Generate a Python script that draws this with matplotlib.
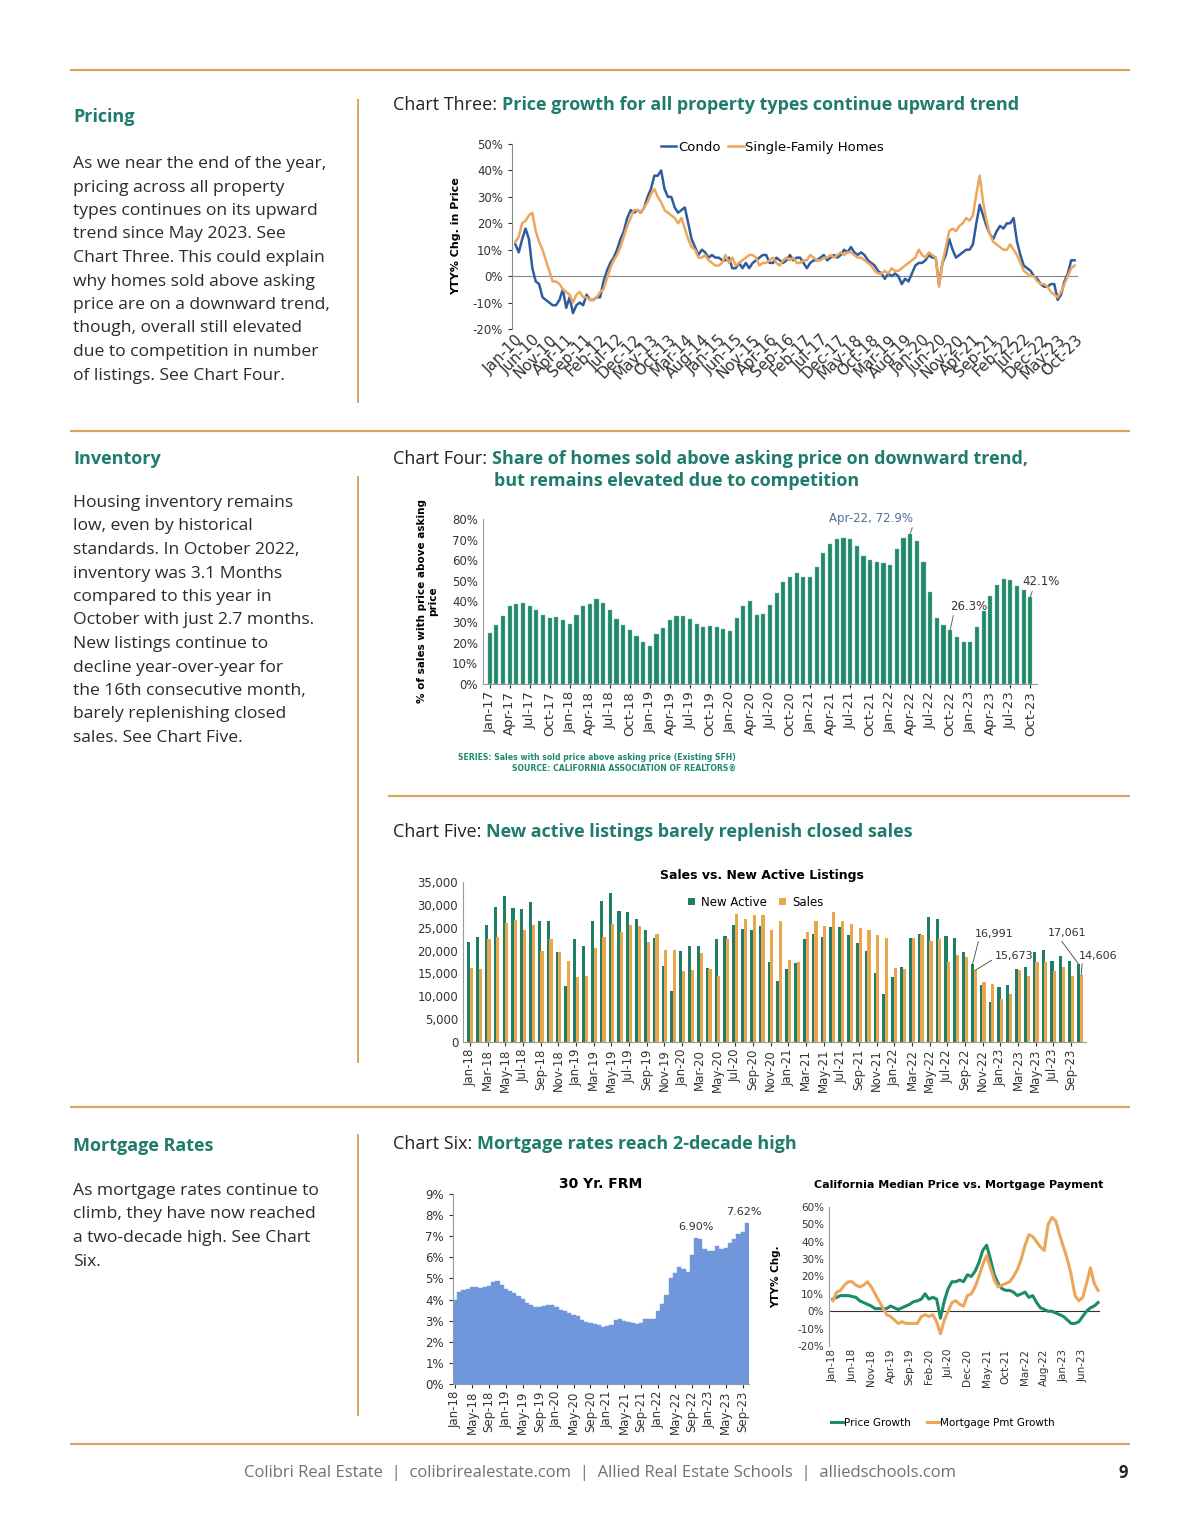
import matplotlib.pyplot as plt
import numpy as np
from matplotlib.ticker import FuncFormatter

# page size in pixels
W, H = 1200, 1535

TEAL = '#1f7b6c'
RULE = '#d8a65e'
BODY = '#2b2b2b'
CHART_FONT = 'DejaVu Sans'

# ---------------- data ----------------
# Chart Three: YTY% change in price, monthly Jan-10 .. Oct-23
condo = [12, 9, 14, 18, 14, 3, -2, -3, -8, -9, -10, -11,
         -11, -9, -5, -12, -8, -14, -11, -10, -11, -7, -9, -9,
         -8, -8, -2, 2, 5, 7, 10, 14, 17, 22, 25, 24,
         25, 24, 26, 30, 33, 38, 38, 40, 33, 30, 30, 26,
         24, 25, 26, 20, 14, 11, 8, 10, 9, 7, 8, 7,
         7, 6, 6, 7, 3, 3, 5, 3, 5, 3, 5, 6,
         7, 8, 8, 5, 5, 7, 6, 5, 6, 8, 6, 7,
         7, 5, 3, 5, 6, 6, 7, 8, 6, 7, 8, 7,
         8, 10, 9, 11, 9, 8, 9, 8, 6, 5, 4, 2,
         1, -1, 1, 0, 1, 0, -3, -1, -2, 1, 4, 5,
         5, 6, 8, 7, 7, -3, 5, 8, 14, 10, 7, 8,
         9, 10, 10, 12, 20, 27, 23, 19, 16, 14, 17, 19,
         18, 20, 20, 22, 13, 8, 4, 3, 2, 0, -1, -3,
         -4, -4, -3, -3, -9, -7, -2, 1, 6, 6]
sfh = [13, 15, 20, 21, 23, 24, 17, 13, 10, 6, 2, -2,
       -2, -3, -5, -6, -7, -10, -7, -6, -8, -8, -9, -9,
       -8, -6, -5, -1, 3, 6, 8, 11, 15, 19, 22, 25,
       25, 24, 26, 28, 31, 33, 30, 28, 25, 24, 23, 22,
       20, 22, 18, 14, 11, 10, 7, 7, 8, 6, 5, 4,
       4, 5, 8, 5, 7, 4, 5, 6, 7, 8, 8, 7,
       4, 5, 5, 6, 7, 5, 4, 6, 7, 6, 7, 5,
       5, 6, 6, 8, 7, 6, 6, 7, 7, 8, 7, 8,
       9, 8, 9, 9, 8, 7, 7, 6, 5, 4, 2, 1,
       1, 2, 1, 3, 2, 2, 3, 4, 5, 6, 7, 10,
       8, 7, 9, 8, 7, -4, 5, 11, 17, 18, 17, 19,
       20, 22, 21, 23, 31, 38, 28, 21, 16, 13, 12, 11,
       10, 10, 12, 10, 8, 5, 2, 1, 0, 0, -2, -3,
       -3, -4, -6, -7, -8, -6, -3, 0, 3, 4]
c3_ticks = ['Jan-10', 'Jun-10', 'Nov-10', 'Apr-11', 'Sep-11', 'Feb-12', 'Jul-12',
            'Dec-12', 'May-13', 'Oct-13', 'Mar-14', 'Aug-14', 'Jan-15', 'Jun-15',
            'Nov-15', 'Apr-16', 'Sep-16', 'Feb-17', 'Jul-17', 'Dec-17', 'May-18',
            'Oct-18', 'Mar-19', 'Aug-19', 'Jan-20', 'Jun-20', 'Nov-20', 'Apr-21',
            'Sep-21', 'Feb-22', 'Jul-22', 'Dec-22', 'May-23', 'Oct-23']

# Chart Four: % of sales above asking, monthly Jan-17 .. Oct-23
above_ask = [24.5, 28.5, 33, 38, 39, 39.5, 38, 36, 33.5, 32, 32.5, 31,
             29, 33.5, 38, 39, 41, 39.5, 36, 31.5, 28.5, 26, 23.5, 20.5,
             18.5, 24, 27, 31, 33, 33, 31.5, 29, 27.5, 28, 27.5, 26.5,
             25.5, 32, 38, 40, 33.5, 34, 38.5, 44, 49.5, 52, 54, 52,
             52, 56.5, 63.5, 68, 70.5, 71, 70.5, 67, 62, 60, 59, 58.5,
             57.5, 65.5, 71, 72.9, 69.5, 59, 44.5, 32, 28.5, 26.3, 23, 20.5,
             20.5, 27.5, 35.5, 42.5, 48, 51, 50.5, 47.5, 45.5, 42.1]
c4_ticks = ['Jan-17', 'Apr-17', 'Jul-17', 'Oct-17', 'Jan-18', 'Apr-18', 'Jul-18',
            'Oct-18', 'Jan-19', 'Apr-19', 'Jul-19', 'Oct-19', 'Jan-20', 'Apr-20',
            'Jul-20', 'Oct-20', 'Jan-21', 'Apr-21', 'Jul-21', 'Oct-21', 'Jan-22',
            'Apr-22', 'Jul-22', 'Oct-22', 'Jan-23', 'Apr-23', 'Jul-23', 'Oct-23']

# Chart Five: new active listings vs sales, monthly Jan-18 .. Oct-23
new_active = [21800, 23000, 25500, 29500, 32000, 29300, 29200, 30600, 26400, 26500, 19700, 12300,
              22600, 20900, 26400, 30800, 32500, 28600, 28500, 26800, 24400, 22800, 16700, 11200,
              19900, 21100, 21100, 16200, 22600, 23200, 25500, 24800, 24600, 25300, 17400, 13300,
              16000, 17200, 22500, 23600, 23000, 25100, 25200, 23400, 21700, 19900, 15000, 10400,
              14300, 16300, 22700, 23600, 27400, 26900, 23100, 22800, 19600, 16991, 12500, 8700,
              12100, 12400, 16000, 16500, 19700, 20100, 17700, 18800, 17700, 17061]
sales = [16200, 16000, 22500, 23000, 26000, 26700, 24500, 25500, 20000, 22500, 19700, 17700,
         14300, 14500, 20500, 23000, 25800, 24000, 25500, 25300, 21800, 23600, 20200, 20100,
         15500, 15700, 19500, 16000, 14500, 22500, 28000, 26800, 27700, 27700, 24600, 26500,
         18000, 17400, 24000, 26400, 25300, 28400, 26500, 25800, 25000, 24400, 23300, 22800,
         16200, 16000, 22800, 23300, 22000, 22500, 17500, 19000, 18500, 15673, 13200, 12700,
         9500, 10600, 15800, 14400, 17600, 17600, 15500, 16300, 14500, 14606]
c5_ticks = ['Jan-18', 'Mar-18', 'May-18', 'Jul-18', 'Sep-18', 'Nov-18',
            'Jan-19', 'Mar-19', 'May-19', 'Jul-19', 'Sep-19', 'Nov-19',
            'Jan-20', 'Mar-20', 'May-20', 'Jul-20', 'Sep-20', 'Nov-20',
            'Jan-21', 'Mar-21', 'May-21', 'Jul-21', 'Sep-21', 'Nov-21',
            'Jan-22', 'Mar-22', 'May-22', 'Jul-22', 'Sep-22', 'Nov-22',
            'Jan-23', 'Mar-23', 'May-23', 'Jul-23', 'Sep-23']

# Chart Six (left): 30 yr FRM, monthly Jan-18 .. Oct-23
frm = [4.0, 4.35, 4.45, 4.5, 4.6, 4.6, 4.55, 4.6, 4.65, 4.85, 4.9, 4.7,
       4.5, 4.4, 4.3, 4.15, 4.05, 3.85, 3.75, 3.65, 3.65, 3.7, 3.75, 3.75,
       3.65, 3.5, 3.45, 3.35, 3.25, 3.2, 3.05, 2.95, 2.9, 2.85, 2.8, 2.7,
       2.75, 2.8, 3.05, 3.1, 3.0, 2.95, 2.9, 2.85, 2.9, 3.1, 3.1, 3.1,
       3.45, 3.8, 4.2, 5.0, 5.25, 5.55, 5.45, 5.3, 6.1, 6.9, 6.85, 6.4,
       6.3, 6.3, 6.55, 6.4, 6.45, 6.7, 6.85, 7.1, 7.2, 7.62]
frm_ticks = ['Jan-18', 'May-18', 'Sep-18', 'Jan-19', 'May-19', 'Sep-19',
             'Jan-20', 'May-20', 'Sep-20', 'Jan-21', 'May-21', 'Sep-21',
             'Jan-22', 'May-22', 'Sep-22', 'Jan-23', 'May-23', 'Sep-23']

# Chart Six (right): CA median price vs mortgage payment, monthly Jan-18 .. Oct-23
price_growth = [7, 8, 9, 9, 9, 8.5, 8, 6, 5, 4, 3, 1.5,
                1.5, 1.5, 1.5, 3, 2, 1, 2, 3, 4, 5.5, 6, 7,
                10, 7, 8, 7, -4, 6, 13, 17, 17, 18, 17, 21,
                20, 23, 28, 35, 38, 30, 21, 16, 13, 12, 12, 11,
                9, 10, 11, 8, 9, 5, 2, 1, 0, 0, -1, -2,
                -3, -5, -7, -7, -6, -3, 0, 2, 3, 5]
pmt_growth = [6, 11, 12, 15, 17, 17, 15, 14, 15, 17, 14, 10,
              6, 2, -2, -3, -5, -7, -6, -7, -7, -7, -7, -3,
              -2, -3, -2, -6, -13, -5, 0, 5, 6, 4, 3, 9,
              10, 14, 20, 27, 32, 25, 18, 14, 15, 16, 17, 20,
              24, 30, 38, 44, 43, 40, 37, 35, 50, 54, 52, 44,
              37, 30, 21, 9, 6, 8, 16, 25, 16, 12]
ca_ticks = ['Jan-18', 'Jun-18', 'Nov-18', 'Apr-19', 'Sep-19', 'Feb-20', 'Jul-20',
            'Dec-20', 'May-21', 'Oct-21', 'Mar-22', 'Aug-22', 'Jan-23', 'Jun-23']

pricing_text = ["As we near the end of the year,", "pricing across all property",
                "types continues on its upward", "trend since May 2023. See",
                "Chart Three. This could explain", "why homes sold above asking",
                "price are on a downward trend,", "though, overall still elevated",
                "due to competition in number", "of listings. See Chart Four."]
inventory_text = ["Housing inventory remains", "low, even by historical",
                  "standards. In October 2022,", "inventory was 3.1 Months",
                  "compared to this year in", "October with just 2.7 months.",
                  "New listings continue to", "decline year-over-year for",
                  "the 16th consecutive month,", "barely replenishing closed",
                  "sales. See Chart Five."]
mortgage_text = ["As mortgage rates continue to", "climb, they have now reached",
                 "a two-decade high. See Chart", "Six."]

# ---------------- page ----------------
fig = plt.figure(figsize=(W / 100, H / 100), dpi=100)
fig.patch.set_facecolor('white')
bg = fig.add_axes([0, 0, 1, 1])
bg.set_xlim(0, W)
bg.set_ylim(H, 0)
bg.axis('off')


def box(l, t, r, b):
    return fig.add_axes([l / W, 1 - b / H, (r - l) / W, (b - t) / H])


def hrule(y, x0=70, x1=1130):
    bg.plot([x0, x1], [y, y], color=RULE, lw=1.6, solid_capstyle='butt')


def vrule(x, y0, y1):
    bg.plot([x, x], [y0, y1], color=RULE, lw=1.4)


def heading(x, y, s):
    bg.text(x, y, s, color=TEAL, fontsize=13, fontweight='bold',
            family='Open Sans', va='center')


def body(x, y, lines):
    for i, s in enumerate(lines):
        bg.text(x, y + i * 23.5, s, color=BODY, fontsize=12.6,
                family='Open Sans', va='center')


def chart_title(x, y, lead, rest):
    t = bg.text(x, y, lead, color='#222222', fontsize=13, family='Open Sans', va='center')
    bg.annotate(rest, xy=(1, 0.5), xycoords=t, va='center', ha='left',
                color=TEAL, fontsize=13, fontweight='bold', family='Open Sans')
    return t


hrule(70)
hrule(431)
hrule(796, 388, 1130)
hrule(1107)
hrule(1444)
vrule(358, 100, 402)
vrule(358, 477, 1062)
vrule(358, 1135, 1415)

heading(73, 117, 'Pricing')
body(73, 164, pricing_text)
heading(73, 459, 'Inventory')
body(73, 503, inventory_text)
heading(73, 1146, 'Mortgage Rates')
body(73, 1191, mortgage_text)

chart_title(393, 105, 'Chart Three: ', 'Price growth for all property types continue upward trend')
chart_title(393, 459, 'Chart Four: ', 'Share of homes sold above asking price on downward trend,')
bg.text(494, 481, 'but remains elevated due to competition', color=TEAL, fontsize=13,
        fontweight='bold', family='Open Sans', va='center')
chart_title(393, 832, 'Chart Five: ', 'New active listings barely replenish closed sales')
chart_title(393, 1144, 'Chart Six: ', 'Mortgage rates reach 2-decade high')

bg.text(600, 1473, 'Colibri Real Estate  |  colibrirealestate.com  |  Allied Real Estate Schools  |  alliedschools.com',
        color='#707070', fontsize=12, family='Open Sans', ha='center', va='center')
bg.text(1123, 1473, '9', color='#222222', fontsize=12, fontweight='bold',
        family='Open Sans', ha='center', va='center')

plt.rcParams['font.family'] = CHART_FONT
plt.rcParams['axes.linewidth'] = 0.8

# ---------------- Chart Three ----------------
ax3 = box(512, 144, 1078, 329)
x3 = np.arange(len(condo))
ax3.plot(x3, condo, color='#2e5c9e', lw=1.8, label='Condo')
ax3.plot(x3, sfh, color='#eca75c', lw=1.8, label='Single-Family Homes')
ax3.axhline(0, color='#888888', lw=0.8, zorder=0)
ax3.set_ylim(-20, 50)
ax3.set_xlim(-1, 166)
ax3.set_yticks(range(-20, 51, 10))
ax3.set_yticklabels(['%d%%' % v for v in range(-20, 51, 10)])
ax3.set_xticks(np.arange(0, len(condo), 5))
ax3.set_xticklabels(c3_ticks, rotation=45, ha='right', rotation_mode='anchor')
ax3.tick_params(axis='x', length=0, labelsize=11, pad=2, colors='#333333')
ax3.tick_params(axis='y', length=3, labelsize=8.5, colors='#333333')
for s in ['top', 'right', 'bottom']:
    ax3.spines[s].set_visible(False)
ax3.spines['left'].set_color('#888888')
ax3.set_ylabel('YTY% Chg. in Price', fontsize=8, fontweight='bold', labelpad=8)
ax3.legend(loc='upper center', bbox_to_anchor=(0.46, 1.08), ncol=2, frameon=False,
           fontsize=9.5, handlelength=1.2, handletextpad=0.1, columnspacing=0.6)

# ---------------- Chart Four ----------------
ax4 = box(483, 519, 1037, 684)
x4 = np.arange(len(above_ask))
ax4.bar(x4, above_ask, width=0.62, color='#22876d', edgecolor='#7fc1ab', linewidth=0.3)
ax4.set_ylim(0, 80)
ax4.set_xlim(-1, len(above_ask))
ax4.set_yticks(range(0, 81, 10))
ax4.set_yticklabels(['%d%%' % v for v in range(0, 81, 10)])
ax4.set_xticks(np.arange(0, len(above_ask), 3))
ax4.set_xticklabels(c4_ticks, rotation=90)
ax4.tick_params(axis='x', length=3, labelsize=9.5, pad=2, colors='#333333')
ax4.tick_params(axis='y', length=0, labelsize=8.5, colors='#333333')
for s in ['top', 'right']:
    ax4.spines[s].set_visible(False)
ax4.spines['left'].set_color('#999999')
ax4.spines['bottom'].set_color('#999999')
ax4.set_ylabel('% of sales with price above asking\nprice', fontsize=7.5,
               fontweight='bold', labelpad=10)
i_peak = above_ask.index(72.9)
ax4.annotate('Apr-22, 72.9%', xy=(i_peak, above_ask[i_peak]), xytext=(-28, 11),
             textcoords='offset points', ha='center', va='center', fontsize=8.5,
             color='#4f6f93', arrowprops=dict(arrowstyle='-', color='#555555', lw=0.6,
                                              shrinkA=0, shrinkB=0, relpos=(1, 0)))
i_low = above_ask.index(26.3)
ax4.annotate('26.3%', xy=(i_low, above_ask[i_low]), xytext=(0, 17),
             textcoords='offset points', ha='left', va='center', fontsize=8.5,
             color='#333333', arrowprops=dict(arrowstyle='-', color='#555555', lw=0.6,
                                              shrinkA=0, shrinkB=0, relpos=(0.1, 0)))
i_last = len(above_ask) - 1
ax4.annotate('42.1%', xy=(i_last, above_ask[i_last]), xytext=(-6, 11),
             textcoords='offset points', ha='left', va='center', fontsize=8.5,
             color='#333333', arrowprops=dict(arrowstyle='-', color='#555555', lw=0.6,
                                              shrinkA=0, shrinkB=0, relpos=(0.3, 0)))
bg.text(736, 758, 'SERIES: Sales with sold price above asking price (Existing SFH)',
        color='#1d8a6f', fontsize=5.6, fontweight='bold', ha='right', va='center',
        family=CHART_FONT)
bg.text(736, 768, 'SOURCE: CALIFORNIA ASSOCIATION OF REALTORS\u00ae',
        color='#1d8a6f', fontsize=5.6, fontweight='bold', ha='right', va='center',
        family=CHART_FONT)

# ---------------- Chart Five ----------------
ax5 = box(463, 882, 1086, 1042)
x5 = np.arange(len(new_active))
ax5.bar(x5 - 0.15, new_active, width=0.36, color='#1f7f66', label='New Active')
ax5.bar(x5 + 0.15, sales, width=0.36, color='#eba64c', label='Sales')
ax5.set_ylim(0, 35000)
ax5.set_xlim(-0.8, len(new_active) - 0.3)
ax5.set_yticks(range(0, 35001, 5000))
ax5.yaxis.set_major_formatter(FuncFormatter(lambda v, p: '{:,.0f}'.format(v)))
ax5.set_xticks(np.arange(0, len(new_active), 2))
ax5.set_xticklabels(c5_ticks, rotation=90)
ax5.tick_params(axis='x', length=3, labelsize=8.5, pad=2, colors='#333333')
ax5.tick_params(axis='y', length=0, labelsize=8.5, colors='#333333')
for s in ['top', 'right']:
    ax5.spines[s].set_visible(False)
ax5.spines['left'].set_color('#999999')
ax5.spines['bottom'].set_color('#999999')
ax5.set_title('Sales vs. New Active Listings', fontsize=9, fontweight='bold', pad=2, x=0.48)
ax5.legend(loc='upper center', bbox_to_anchor=(0.47, 0.98), ncol=2, frameon=False,
           fontsize=8.5, handlelength=0.6, handleheight=0.6, handletextpad=0.5,
           columnspacing=1.0)
lead = dict(arrowstyle='-', color='#444444', lw=0.6, shrinkA=0, shrinkB=0)
i_oct22 = 57
ax5.annotate('{:,}'.format(new_active[i_oct22]), xy=(i_oct22 - 0.15, new_active[i_oct22]),
             xytext=(2, 22), textcoords='offset points', ha='left', va='center',
             fontsize=8, color='#333333', arrowprops=dict(lead, relpos=(0.1, 0)))
ax5.annotate('{:,}'.format(sales[i_oct22]), xy=(i_oct22 + 0.15, sales[i_oct22]),
             xytext=(14, 10), textcoords='offset points', ha='left', va='center',
             fontsize=8, color='#333333', arrowprops=dict(lead, relpos=(0, 0.3)))
i_oct23 = len(new_active) - 1
ax5.annotate('{:,}'.format(new_active[i_oct23]), xy=(i_oct23 - 0.15, new_active[i_oct23]),
             xytext=(-8, 22), textcoords='offset points', ha='center', va='center',
             fontsize=8, color='#333333', arrowprops=dict(lead, relpos=(0.3, 0)))
ax5.annotate('{:,}'.format(sales[i_oct23]), xy=(i_oct23 + 0.15, sales[i_oct23]),
             xytext=(12, 14), textcoords='offset points', ha='center', va='center',
             fontsize=8, color='#333333', arrowprops=dict(lead, relpos=(0.1, 0)))

# ---------------- Chart Six (left) ----------------
ax6 = box(453, 1194, 749, 1384)
x6 = np.arange(len(frm))
ax6.bar(x6, frm, width=1.0, color='#7096dc', edgecolor='#7096dc', linewidth=0.3)
ax6.set_ylim(0, 9)
ax6.set_xlim(-0.5, len(frm) - 0.5)
ax6.set_yticks(range(0, 10))
ax6.set_yticklabels(['%d%%' % v for v in range(0, 10)])
ax6.set_xticks(np.arange(0, len(frm), 4))
ax6.set_xticklabels(frm_ticks, rotation=90)
ax6.tick_params(axis='x', length=3, labelsize=8.5, pad=2, colors='#333333')
ax6.tick_params(axis='y', length=3, labelsize=8.5, colors='#333333')
for s in ['top', 'right']:
    ax6.spines[s].set_visible(False)
ax6.spines['left'].set_color('#999999')
ax6.spines['bottom'].set_color('#999999')
ax6.set_title('30 Yr. FRM', fontsize=10, fontweight='bold', pad=4)
i_690 = frm.index(6.9)
ax6.annotate('%.2f%%' % frm[i_690], xy=(i_690, frm[i_690]), xytext=(0, 8),
             textcoords='offset points', ha='center', va='center', fontsize=8,
             color='#333333')
i_762 = len(frm) - 1
ax6.annotate('%.2f%%' % frm[i_762], xy=(i_762, frm[i_762]), xytext=(-2, 8),
             textcoords='offset points', ha='center', va='center', fontsize=8,
             color='#333333')

# ---------------- Chart Six (right) ----------------
ax7 = box(829, 1207, 1100, 1346)
x7 = np.arange(len(price_growth))
ax7.plot(x7, price_growth, color='#1d8a6a', lw=2.2, label='Price Growth')
ax7.plot(x7, pmt_growth, color='#eca65a', lw=2.2, label='Mortgage Pmt Growth')
ax7.axhline(0, color='#333333', lw=0.8, zorder=0)
ax7.set_ylim(-20, 60)
ax7.set_xlim(-1, len(price_growth) - 0.5)
ax7.set_yticks(range(-20, 61, 10))
ax7.set_yticklabels(['%d%%' % v for v in range(-20, 61, 10)])
ax7.set_xticks(np.arange(0, len(price_growth), 5))
ax7.set_xticklabels(ca_ticks, rotation=90)
ax7.tick_params(axis='x', length=0, labelsize=7.5, pad=2, colors='#333333')
ax7.tick_params(axis='y', length=0, labelsize=7.5, colors='#333333')
for s in ['top', 'right', 'bottom']:
    ax7.spines[s].set_visible(False)
ax7.spines['left'].set_color('#999999')
ax7.set_ylabel('YTY% Chg.', fontsize=7.5, fontweight='bold', labelpad=12)
ax7.set_title('California Median Price vs. Mortgage Payment', fontsize=8,
              fontweight='bold', pad=14, x=0.48)
ax7.legend(loc='upper center', bbox_to_anchor=(0.42, -0.45), ncol=2, frameon=False,
           fontsize=7.5, handlelength=1.2, handletextpad=0.1, columnspacing=1.5)

fig.savefig('out.png', dpi=100, facecolor='white')
